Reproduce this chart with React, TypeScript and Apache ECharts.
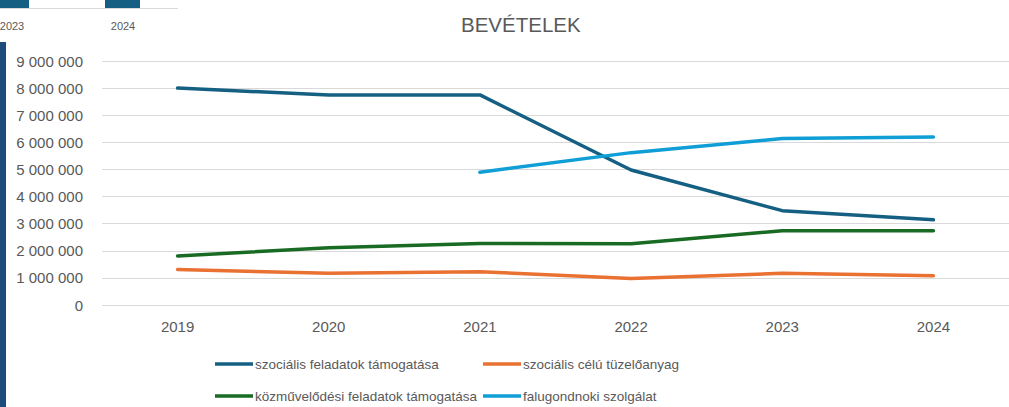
import React, { useEffect, useRef } from "react";
import * as echarts from "echarts";

const years = ["2019", "2020", "2021", "2022", "2023", "2024"];
const szocialisFeladatok = [8000000, 7750000, 7750000, 4980000, 3480000, 3140000];
const szocialisTuzelo = [1310000, 1170000, 1230000, 980000, 1170000, 1080000];
const kozmuvelodesi = [1810000, 2110000, 2270000, 2260000, 2740000, 2740000];
const falugondnoki = [null, null, 4900000, 5620000, 6140000, 6200000];

const seriesNames = [
  "szociális feladatok támogatása",
  "szociális célú tüzelőanyag",
  "közművelődési feladatok támogatása",
  "falugondnoki szolgálat",
];
const seriesColors = ["#156082", "#E97132", "#196B24", "#0F9ED5"];
const seriesData = [szocialisFeladatok, szocialisTuzelo, kozmuvelodesi, falugondnoki];

const fragmentLabels = ["2023", "2024"];

const FONT = "Liberation Sans";
const GRAY = "#595959";

function fmt(v: number): string {
  return String(v).replace(/\B(?=(\d{3})+(?!\d))/g, " ");
}

export default function App() {
  const ref = useRef<HTMLDivElement>(null);
  useEffect(() => {
    if (!ref.current) return;
    const chart = echarts.init(ref.current, null, { renderer: "svg" });
    const legendPos = [
      { left: 215, top: 357 },
      { left: 483, top: 357 },
      { left: 215, top: 389 },
      { left: 483, top: 389 },
    ];
    chart.setOption({
      animation: false,
      title: {
        text: "BEVÉTELEK",
        left: 456,
        top: 9,
        textStyle: { fontFamily: FONT, fontSize: 20.5, fontWeight: "normal", color: GRAY },
      },
      legend: seriesNames.map((n, i) => ({
        data: [n],
        left: legendPos[i].left,
        top: legendPos[i].top,
        padding: 0,
        icon: "rect",
        itemWidth: 38,
        itemHeight: 3.5,
        itemGap: 0,
        textStyle: { fontFamily: FONT, fontSize: 13.5, color: GRAY, padding: [0, 0, 0, -3] },
      })),
      grid: { left: 102, right: -8, top: 61, bottom: 102, containLabel: false },
      xAxis: {
        type: "category",
        data: years,
        boundaryGap: true,
        axisLine: { show: false },
        axisTick: { show: false },
        axisLabel: { fontFamily: FONT, fontSize: 15, color: GRAY, margin: 14 },
      },
      yAxis: {
        type: "value",
        min: 0,
        max: 9000000,
        interval: 1000000,
        axisLine: { show: false },
        axisTick: { show: false },
        splitLine: { lineStyle: { color: "#d9d9d9", width: 1 } },
        axisLabel: {
          fontFamily: FONT,
          fontSize: 15,
          color: GRAY,
          margin: 19,
          formatter: (v: number) => fmt(v),
        },
      },
      series: seriesNames.map((n, i) => ({
        name: n,
        type: "line",
        data: seriesData[i],
        showSymbol: false,
        symbol: "none",
        lineStyle: { color: seriesColors[i], width: 3.5, cap: "round" },
        itemStyle: { color: seriesColors[i] },
        connectNulls: false,
      })),
      graphic: [
        { type: "rect", shape: { x: 0, y: 42, width: 6, height: 365 }, style: { fill: "#1D4B7C" } },
        { type: "rect", shape: { x: 0, y: 0, width: 29, height: 8 }, style: { fill: "#156082" } },
        { type: "rect", shape: { x: 105, y: 0, width: 35, height: 8 }, style: { fill: "#156082" } },
        { type: "line", shape: { x1: 0, y1: 8.5, x2: 178, y2: 8.5 }, style: { stroke: "#d9d9d9", lineWidth: 1 } },
        {
          type: "text",
          x: 12,
          y: 26,
          style: { text: fragmentLabels[0], fontFamily: FONT, fontSize: 11, fill: GRAY, align: "center", verticalAlign: "middle" },
        },
        {
          type: "text",
          x: 123,
          y: 26,
          style: { text: fragmentLabels[1], fontFamily: FONT, fontSize: 11, fill: GRAY, align: "center", verticalAlign: "middle" },
        },
      ],
    });
    return () => chart.dispose();
  }, []);
  return (
    <div
      ref={ref}
      style={{ position: "absolute", left: 0, top: 0, width: 1009, height: 407, background: "#fff" }}
    />
  );
}
